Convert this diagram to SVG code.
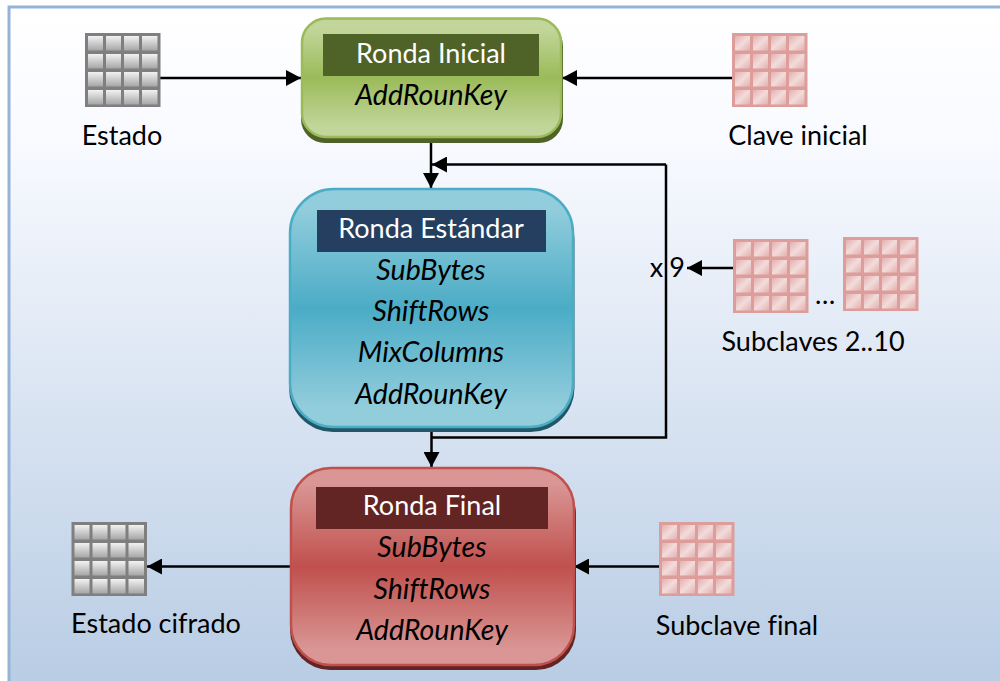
<svg xmlns="http://www.w3.org/2000/svg" xmlns:xlink="http://www.w3.org/1999/xlink" width="1000" height="681" viewBox="0 0 1000 681">
<style>
text{font-family:"Lato","Open Sans","Liberation Sans",sans-serif;font-size:27px;text-anchor:middle;fill:#000;font-variant-ligatures:none}
.t{fill:#fff}
.i{font-style:italic;font-size:28.500px}
.c{fill:none;stroke:#000;stroke-width:2.500}
</style>
<defs>
<linearGradient id="bg" x1="0" y1="0" x2="0" y2="1"><stop offset="0" stop-color="#fff"/><stop offset="0.2" stop-color="#f8faff"/><stop offset="1" stop-color="#b8cce4"/></linearGradient>
<linearGradient id="gr" x1="0" y1="0" x2="0" y2="1"><stop offset="0.08" stop-color="#c2d69b"/><stop offset="0.5" stop-color="#9bbb59"/><stop offset="0.92" stop-color="#c2d69b"/></linearGradient>
<linearGradient id="bl" x1="0" y1="0" x2="0" y2="1"><stop offset="0.08" stop-color="#92cddc"/><stop offset="0.5" stop-color="#4bacc6"/><stop offset="0.92" stop-color="#92cddc"/></linearGradient>
<linearGradient id="re" x1="0" y1="0" x2="0" y2="1"><stop offset="0.08" stop-color="#d99694"/><stop offset="0.5" stop-color="#c0504d"/><stop offset="0.92" stop-color="#d99694"/></linearGradient>
<linearGradient id="gc" x1="0" y1="0" x2="0" y2="1"><stop offset="0" stop-color="#f2f2f2"/><stop offset="1" stop-color="#a6a6a6"/></linearGradient>
<linearGradient id="pc" x1="0" y1="0" x2="1" y2="1"><stop offset="0" stop-color="#e3b0af"/><stop offset="0.5" stop-color="#f2dcdb"/><stop offset="1" stop-color="#e3b0af"/></linearGradient>
<marker id="a" markerUnits="userSpaceOnUse" markerWidth="16" markerHeight="16" refX="15" refY="8" orient="auto"><path d="M0 0L15 8L0 16Z" fill="#000"/></marker>
<g id="cells">
<rect x="3" y="3" width="15" height="14.500"/><rect x="21" y="3" width="15" height="14.500"/><rect x="39" y="3" width="15" height="14.500"/><rect x="57" y="3" width="15.500" height="14.500"/>
<rect x="3" y="21" width="15" height="14.500"/><rect x="21" y="21" width="15" height="14.500"/><rect x="39" y="21" width="15" height="14.500"/><rect x="57" y="21" width="15.500" height="14.500"/>
<rect x="3" y="39" width="15" height="14.500"/><rect x="21" y="39" width="15" height="14.500"/><rect x="39" y="39" width="15" height="14.500"/><rect x="57" y="39" width="15.500" height="14.500"/>
<rect x="3" y="57" width="15" height="14.500"/><rect x="21" y="57" width="15" height="14.500"/><rect x="39" y="57" width="15" height="14.500"/><rect x="57" y="57" width="15.500" height="14.500"/>
</g>
<g id="gray"><rect width="75.500" height="74" fill="#7f7f7f"/><use xlink:href="#cells" fill="url(#gc)"/></g>
<g id="pink"><rect width="75.500" height="74" fill="#dc9d9b"/><use xlink:href="#cells" fill="url(#pc)"/></g>
</defs>
<g id="background">
<rect x="9" y="7" width="995" height="680" fill="url(#bg)" stroke="#95b3d7" stroke-width="3"/>
</g>
<g id="connectors">
<path class="c" d="M158 78H301" marker-end="url(#a)"/>
<path class="c" d="M734 78H562" marker-end="url(#a)"/>
<path class="c" d="M431 137V188" marker-end="url(#a)"/>
<path class="c" d="M666 164.500H432" marker-end="url(#a)"/>
<path class="c" d="M666 164.500V437.500H432"/>
<path class="c" d="M431.500 426V467" marker-end="url(#a)"/>
<path class="c" d="M736 268H687" marker-end="url(#a)"/>
<path class="c" d="M292 566.500H147" marker-end="url(#a)"/>
<path class="c" d="M661 566.500H574" marker-end="url(#a)"/>
</g>
<g id="ronda-inicial">
<rect x="301" y="22" width="262" height="121" rx="24" fill="#4f6228"/>
<rect x="302" y="18.500" width="259" height="118.500" rx="24" fill="url(#gr)" stroke="#9bbb59" stroke-width="2.500"/>
<rect x="323" y="34" width="216" height="42" fill="#4f6228"/>
<text class="t" x="431" y="63">Ronda Inicial</text>
<text class="i" x="431" y="105">AddRounKey</text>
</g>
<g id="ronda-estandar">
<rect x="289" y="195" width="285.500" height="237" rx="44" fill="#205867"/>
<rect x="290" y="189" width="283" height="238" rx="44" fill="url(#bl)" stroke="#4bacc6" stroke-width="2.500"/>
<rect x="317" y="210" width="229" height="42" fill="#243f60"/>
<text class="t" x="431" y="238">Ronda Estándar</text>
<text class="i" x="431" y="280">SubBytes</text>
<text class="i" x="431" y="321">ShiftRows</text>
<text class="i" x="431" y="362">MixColumns</text>
<text class="i" x="431" y="404">AddRounKey</text>
</g>
<g id="ronda-final">
<rect x="290" y="474" width="286" height="196" rx="40" fill="#632523"/>
<rect x="291" y="468" width="283" height="197" rx="40" fill="url(#re)" stroke="#c0504d" stroke-width="2.500"/>
<rect x="316" y="487" width="232" height="42" fill="#632523"/>
<text class="t" x="432" y="515">Ronda Final</text>
<text class="i" x="432" y="557">SubBytes</text>
<text class="i" x="432" y="599">ShiftRows</text>
<text class="i" x="432" y="640">AddRounKey</text>
</g>
<g id="estado"><use xlink:href="#gray" x="85" y="33"/><text x="122" y="145">Estado</text></g>
<g id="clave-inicial"><use xlink:href="#pink" x="732" y="33"/><text x="798" y="145">Clave inicial</text></g>
<g id="subclaves"><use xlink:href="#pink" x="733" y="239"/><use xlink:href="#pink" x="843" y="237"/><text x="825" y="304">…</text><text x="813" y="351">Subclaves 2..10</text></g>
<g id="x9"><text x="656.500" y="277">x</text><text x="677" y="277">9</text></g>
<g id="subclave-final"><use xlink:href="#pink" x="659" y="522"/><text x="737" y="635">Subclave final</text></g>
<g id="estado-cifrado"><use xlink:href="#gray" x="71.500" y="522"/><text x="156" y="633">Estado cifrado</text></g>
</svg>
